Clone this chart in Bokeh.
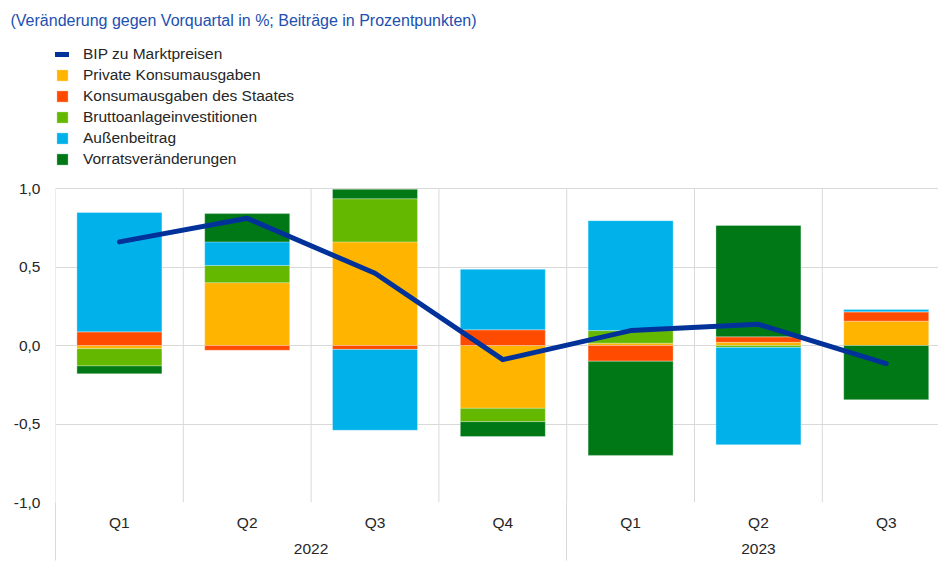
import numpy as np
from bokeh.plotting import figure
from bokeh.models import Range1d, FixedTicker, LinearAxis, Legend, LegendItem, Grid
from bokeh.embed import file_html
from bokeh.resources import INLINE

# ---- data ----
quarters = ["Q1", "Q2", "Q3", "Q4", "Q1", "Q2", "Q3"]
years = ["2022", "2023"]
year_quarters = [4, 3]
bip = [0.66, 0.81, 0.46, -0.09, 0.095, 0.135, -0.115]
private = [-0.02, 0.40, 0.66, -0.40, 0.015, 0.02, 0.155]
staat = [0.087, -0.03, -0.025, 0.10, -0.10, 0.035, 0.06]
brutto = [-0.11, 0.11, 0.275, -0.085, 0.08, -0.012, 0.0]
aussen = [0.76, 0.15, -0.515, 0.385, 0.70, -0.62, 0.015]
vorrat = [-0.05, 0.18, 0.06, -0.095, -0.60, 0.71, -0.345]
series_names = ["Private Konsumausgaben", "Konsumausgaben des Staates",
                "Bruttoanlageinvestitionen", "Außenbeitrag", "Vorratsveränderungen"]
series_values = [private, staat, brutto, aussen, vorrat]
series_colors = ["#FFB400", "#FF4B00", "#65B800", "#00B1EA", "#007816"]
bip_name = "BIP zu Marktpreisen"
y_ticks = [-1.0, -0.5, 0.0, 0.5, 1.0]
y_labels = ["-1,0", "-0,5", "0,0", "0,5", "1,0"]
title_text = "(Veränderung gegen Vorquartal in %; Beiträge in Prozentpunkten)"

FONT = "Liberation Sans"
FS = "15.5px"
GRID = "#d9d9d9"
TXT = "#262626"

n = len(quarters)
x = np.arange(n) + 0.5

# frame from y=TOP to y=502 px; the value scale keeps 314 px for 2 units,
# the area above 1.0 holds the legend
TOP = 28
px_per_unit = 314 / 2.0
y_top = -1.0 + (502 - TOP) / px_per_unit

p = figure(width=938, height=564, output_backend="svg", toolbar_location=None,
           x_range=Range1d(0, 6.909), y_range=Range1d(-1.0, y_top),
           min_border_left=55, min_border_right=0, min_border_top=TOP,
           min_border_bottom=62, x_axis_type=None, y_axis_type=None)
p.title.text = title_text
p.title.text_font = FONT
p.title.text_font_size = "16px"
p.title.text_font_style = "normal"
p.title.text_color = "#2050b0"
p.title.align = "left"
p.title.offset = -45
p.title.standoff = 0
p.outline_line_color = None
p.background_fill_color = "white"
p.border_fill_color = "white"

# grids: horizontal via Grid, vertical lines only across the value area
yg = Grid(dimension=1, ticker=FixedTicker(ticks=y_ticks),
          grid_line_color=GRID, grid_line_width=1)
p.add_layout(yg, "center")
gx = np.arange(n + 1)
p.segment(x0=gx, x1=gx, y0=[min(y_ticks)] * (n + 1), y1=[max(y_ticks)] * (n + 1),
          line_color=GRID, line_width=1, level="underlay")

# stacked bars
pos_base = np.zeros(n)
neg_base = np.zeros(n)
bar_renderers = []
for name, vals, col in zip(series_names, series_values, series_colors):
    v = np.array(vals, dtype=float)
    bottom = np.where(v >= 0, pos_base, neg_base)
    top = bottom + v
    pos_base = np.where(v >= 0, top, pos_base)
    neg_base = np.where(v < 0, top, neg_base)
    r = p.vbar(x=x, width=0.665, bottom=bottom, top=top, fill_color=col,
               line_color="white", line_width=0.6, line_alpha=0.5)
    bar_renderers.append((name, r))

line_r = p.line(x, bip, line_width=5, line_color="#003299",
                line_cap="round", line_join="round")

# axes
yax = LinearAxis(ticker=FixedTicker(ticks=y_ticks),
                 major_label_overrides={t: l for t, l in zip(y_ticks, y_labels)})
yax.axis_line_color = None
yax.major_tick_line_color = None
yax.minor_tick_line_color = None
yax.major_tick_out = 0
yax.major_tick_in = 0
yax.major_label_standoff = 15
yax.major_label_text_font = FONT
yax.major_label_text_font_size = FS
yax.major_label_text_color = TXT
p.add_layout(yax, "left")

sep = [0]
for c in year_quarters:
    sep.append(sep[-1] + c)
xax = LinearAxis(ticker=FixedTicker(ticks=list(x), minor_ticks=sep),
                 major_label_overrides={float(t): q for t, q in zip(x, quarters)})
xax.axis_line_color = None
xax.major_tick_line_color = None
xax.major_tick_out = 0
xax.major_tick_in = 0
xax.minor_tick_line_color = GRID
xax.minor_tick_out = 58
xax.minor_tick_in = 0
xax.major_label_standoff = 11 - 58
xax.major_label_text_font = FONT
xax.major_label_text_font_size = FS
xax.major_label_text_color = TXT
p.add_layout(xax, "below")

year_centers = [(sep[i] + sep[i + 1]) / 2 for i in range(len(years))]
yrax = LinearAxis(ticker=FixedTicker(ticks=year_centers),
                  major_label_overrides={float(t): y for t, y in zip(year_centers, years)})
yrax.axis_line_color = None
yrax.major_tick_line_color = None
yrax.minor_tick_line_color = None
yrax.major_tick_out = 0
yrax.major_tick_in = 0
yrax.major_label_standoff = 10
yrax.major_label_text_font = FONT
yrax.major_label_text_font_size = FS
yrax.major_label_text_color = TXT
p.add_layout(yrax, "below")

# legend
items = [LegendItem(label=bip_name, renderers=[line_r])]
for name, r in bar_renderers:
    items.append(LegendItem(label=name, renderers=[r]))
legend = Legend(items=items, location=(0, 334), glyph_width=14, glyph_height=14,
                label_standoff=14, spacing=3, padding=0, margin=0,
                label_height=18, border_line_color=None, background_fill_alpha=0,
                label_text_font=FONT, label_text_font_size=FS,
                label_text_color=TXT)
p.add_layout(legend, "center")

open("out.html", "w").write(file_html(p, INLINE))
